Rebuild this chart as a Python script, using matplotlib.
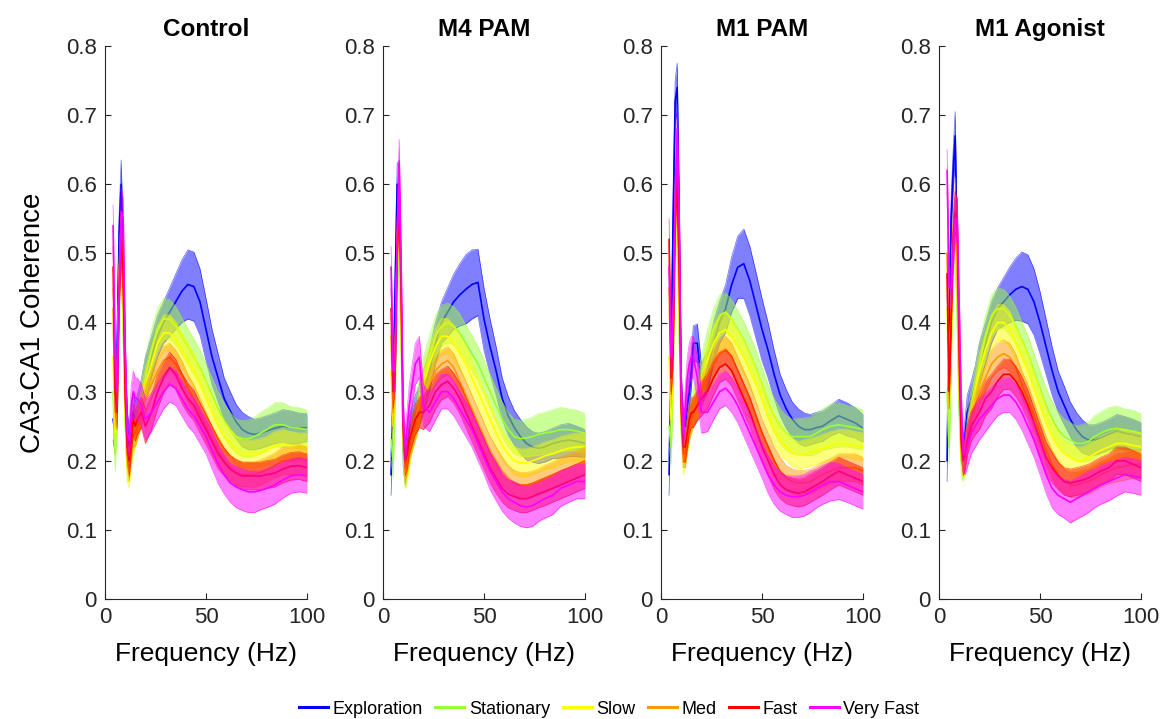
"""
CA3-CA1 coherence spectra by running speed, four drug conditions
"""

import numpy as np
import matplotlib
matplotlib.use('Agg')
import matplotlib.pyplot as plt
from matplotlib.lines import Line2D

plt.rcParams['font.family'] = ['Liberation Sans', 'DejaVu Sans']

# ── data ─────────────────────────────────────────────────────────────────────
FREQ = [4, 5, 6, 7, 8, 9, 10, 11, 12, 13, 14, 15, 16, 18, 20, 23, 26, 29, 32, 35,
        38, 41, 44, 47, 50, 53, 56, 59, 62, 65, 68, 71, 74, 77, 80, 84, 88, 92, 96, 100]

PANELS = ['Control', 'M4 PAM', 'M1 PAM', 'M1 Agonist']
STATES = ['Exploration', 'Stationary', 'Slow', 'Med', 'Fast', 'Very Fast']
COLORS = ['#0000FF', '#99FF33', '#FFFF00', '#FF9900', '#FF0000', '#FF00FF']

# half width of the shaded band (same for every panel)
HW_EXPLORATION = [0.03, 0.03, 0.03, 0.03, 0.035, 0.03, 0.03, 0.025, 0.025, 0.025, 0.025, 0.025, 0.025, 0.028, 0.03, 0.03, 0.03, 0.03, 0.035, 0.04,
                  0.045, 0.05, 0.05, 0.048, 0.045, 0.04, 0.035, 0.03, 0.028, 0.025, 0.025, 0.024, 0.022, 0.022, 0.022, 0.022, 0.024, 0.024, 0.022, 0.02]
HW_STATIONARY = [0.03, 0.025, 0.03, 0.03, 0.03, 0.03, 0.025, 0.02, 0.02, 0.022, 0.022, 0.025, 0.025, 0.028, 0.03, 0.03, 0.03, 0.03, 0.028, 0.028,
                 0.027, 0.026, 0.026, 0.025, 0.025, 0.025, 0.025, 0.025, 0.025, 0.025, 0.026, 0.027, 0.028, 0.03, 0.03, 0.032, 0.032, 0.03, 0.03, 0.028]
HW_SLOW = [0.03, 0.025, 0.025, 0.03, 0.03, 0.03, 0.025, 0.02, 0.02, 0.02, 0.022, 0.022, 0.022, 0.024, 0.025, 0.025, 0.026, 0.026, 0.026, 0.026,
           0.025, 0.025, 0.025, 0.024, 0.024, 0.023, 0.022, 0.022, 0.02, 0.02, 0.02, 0.02, 0.02, 0.02, 0.02, 0.02, 0.02, 0.02, 0.02, 0.02]
HW_MED = [0.03, 0.025, 0.025, 0.03, 0.03, 0.03, 0.025, 0.02, 0.02, 0.02, 0.02, 0.02, 0.02, 0.02, 0.02, 0.02, 0.02, 0.02, 0.02, 0.02,
          0.02, 0.02, 0.02, 0.02, 0.02, 0.02, 0.02, 0.02, 0.018, 0.018, 0.018, 0.018, 0.018, 0.018, 0.018, 0.018, 0.02, 0.02, 0.02, 0.02]
HW_FAST = [0.03, 0.025, 0.025, 0.03, 0.03, 0.03, 0.025, 0.022, 0.022, 0.022, 0.022, 0.022, 0.022, 0.022, 0.025, 0.025, 0.025, 0.022, 0.022, 0.022,
           0.022, 0.022, 0.022, 0.022, 0.022, 0.022, 0.022, 0.02, 0.02, 0.02, 0.02, 0.02, 0.02, 0.02, 0.02, 0.02, 0.02, 0.02, 0.02, 0.02]
HW_VERY_FAST = [0.03, 0.03, 0.03, 0.03, 0.035, 0.03, 0.03, 0.025, 0.025, 0.03, 0.03, 0.03, 0.03, 0.03, 0.03, 0.028, 0.026, 0.025, 0.025, 0.025,
                0.025, 0.025, 0.025, 0.025, 0.025, 0.027, 0.028, 0.028, 0.028, 0.03, 0.03, 0.03, 0.03, 0.028, 0.028, 0.028, 0.026, 0.025, 0.025, 0.025]

# Control
CTRL_EXPLORATION = [0.26, 0.24, 0.36, 0.53, 0.60, 0.50, 0.34, 0.25, 0.22, 0.24, 0.27, 0.26, 0.27, 0.29, 0.32, 0.35, 0.38, 0.40, 0.415, 0.43,
                    0.445, 0.455, 0.452, 0.43, 0.39, 0.35, 0.32, 0.29, 0.272, 0.256, 0.245, 0.24, 0.238, 0.24, 0.243, 0.247, 0.25, 0.248, 0.247, 0.248]
CTRL_STATIONARY = [0.30, 0.21, 0.27, 0.44, 0.50, 0.40, 0.26, 0.19, 0.19, 0.22, 0.24, 0.25, 0.26, 0.29, 0.32, 0.36, 0.39, 0.405, 0.405, 0.395,
                   0.38, 0.365, 0.35, 0.335, 0.315, 0.295, 0.275, 0.258, 0.245, 0.235, 0.232, 0.232, 0.235, 0.24, 0.245, 0.252, 0.252, 0.248, 0.247, 0.245]
CTRL_SLOW = [0.35, 0.24, 0.30, 0.46, 0.52, 0.42, 0.27, 0.19, 0.18, 0.21, 0.23, 0.24, 0.25, 0.28, 0.31, 0.34, 0.37, 0.385, 0.385, 0.375,
             0.36, 0.345, 0.33, 0.31, 0.29, 0.27, 0.25, 0.235, 0.225, 0.215, 0.21, 0.21, 0.21, 0.212, 0.215, 0.222, 0.225, 0.222, 0.22, 0.22]
CTRL_MED = [0.42, 0.27, 0.32, 0.47, 0.53, 0.45, 0.29, 0.21, 0.19, 0.22, 0.24, 0.24, 0.25, 0.27, 0.29, 0.31, 0.33, 0.345, 0.35, 0.34,
            0.325, 0.305, 0.29, 0.27, 0.25, 0.23, 0.215, 0.20, 0.19, 0.182, 0.18, 0.18, 0.18, 0.183, 0.187, 0.193, 0.20, 0.20, 0.203, 0.20]
CTRL_FAST = [0.48, 0.30, 0.27, 0.44, 0.52, 0.47, 0.30, 0.22, 0.20, 0.23, 0.26, 0.25, 0.26, 0.27, 0.25, 0.27, 0.30, 0.32, 0.335, 0.325,
             0.305, 0.29, 0.28, 0.262, 0.245, 0.228, 0.21, 0.198, 0.188, 0.182, 0.178, 0.178, 0.178, 0.178, 0.18, 0.182, 0.188, 0.192, 0.193, 0.19]
CTRL_VERY_FAST = [0.54, 0.35, 0.30, 0.45, 0.56, 0.55, 0.36, 0.24, 0.23, 0.28, 0.30, 0.29, 0.29, 0.28, 0.26, 0.27, 0.285, 0.30, 0.31, 0.305,
                  0.29, 0.275, 0.265, 0.25, 0.235, 0.215, 0.195, 0.18, 0.168, 0.162, 0.158, 0.155, 0.155, 0.157, 0.16, 0.165, 0.172, 0.178, 0.18, 0.178]

# M4 PAM
M4_EXPLORATION = [0.18, 0.30, 0.45, 0.60, 0.60, 0.42, 0.22, 0.19, 0.22, 0.24, 0.25, 0.26, 0.27, 0.28, 0.30, 0.33, 0.37, 0.40, 0.415, 0.43,
                  0.44, 0.448, 0.455, 0.458, 0.405, 0.365, 0.33, 0.29, 0.265, 0.248, 0.235, 0.225, 0.22, 0.218, 0.22, 0.225, 0.228, 0.23, 0.228, 0.225]
M4_STATIONARY = [0.23, 0.20, 0.30, 0.45, 0.50, 0.38, 0.22, 0.18, 0.19, 0.21, 0.23, 0.25, 0.26, 0.29, 0.32, 0.35, 0.38, 0.395, 0.40, 0.395,
                 0.385, 0.37, 0.355, 0.34, 0.32, 0.30, 0.28, 0.26, 0.245, 0.235, 0.232, 0.233, 0.235, 0.238, 0.24, 0.242, 0.245, 0.245, 0.243, 0.24]
M4_SLOW = [0.33, 0.25, 0.33, 0.50, 0.55, 0.40, 0.23, 0.18, 0.19, 0.21, 0.23, 0.24, 0.25, 0.28, 0.31, 0.34, 0.365, 0.38, 0.38, 0.37,
           0.355, 0.34, 0.32, 0.30, 0.28, 0.26, 0.24, 0.222, 0.21, 0.20, 0.197, 0.197, 0.20, 0.203, 0.207, 0.21, 0.215, 0.218, 0.22, 0.22]
M4_MED = [0.38, 0.27, 0.35, 0.52, 0.58, 0.42, 0.24, 0.19, 0.20, 0.22, 0.23, 0.24, 0.25, 0.27, 0.29, 0.31, 0.33, 0.34, 0.345, 0.335,
          0.315, 0.295, 0.275, 0.255, 0.235, 0.215, 0.20, 0.185, 0.175, 0.168, 0.165, 0.165, 0.167, 0.17, 0.175, 0.18, 0.185, 0.19, 0.195, 0.20]
M4_FAST = [0.42, 0.30, 0.33, 0.50, 0.59, 0.44, 0.25, 0.20, 0.21, 0.23, 0.24, 0.25, 0.26, 0.27, 0.27, 0.28, 0.30, 0.31, 0.315, 0.305,
           0.29, 0.27, 0.25, 0.23, 0.21, 0.19, 0.175, 0.16, 0.152, 0.148, 0.145, 0.145, 0.148, 0.152, 0.155, 0.16, 0.165, 0.17, 0.175, 0.18]
M4_VERY_FAST = [0.48, 0.33, 0.33, 0.52, 0.63, 0.48, 0.26, 0.22, 0.25, 0.28, 0.30, 0.32, 0.34, 0.35, 0.28, 0.27, 0.285, 0.30, 0.30, 0.29,
                0.275, 0.26, 0.245, 0.225, 0.205, 0.185, 0.17, 0.155, 0.145, 0.14, 0.135, 0.133, 0.135, 0.14, 0.145, 0.15, 0.16, 0.165, 0.17, 0.17]

# M1 PAM
M1P_EXPLORATION = [0.18, 0.35, 0.55, 0.72, 0.74, 0.55, 0.30, 0.25, 0.25, 0.28, 0.30, 0.33, 0.37, 0.37, 0.31, 0.33, 0.37, 0.40, 0.42, 0.455,
                   0.48, 0.485, 0.46, 0.425, 0.39, 0.36, 0.325, 0.295, 0.275, 0.26, 0.25, 0.245, 0.245, 0.248, 0.25, 0.258, 0.265, 0.26, 0.255, 0.247]
M1P_STATIONARY = [0.25, 0.22, 0.33, 0.50, 0.55, 0.40, 0.25, 0.21, 0.22, 0.24, 0.26, 0.27, 0.28, 0.30, 0.32, 0.36, 0.39, 0.41, 0.415, 0.405,
                  0.39, 0.375, 0.355, 0.335, 0.31, 0.285, 0.265, 0.25, 0.24, 0.235, 0.235, 0.235, 0.235, 0.24, 0.245, 0.25, 0.252, 0.25, 0.248, 0.245]
M1P_SLOW = [0.35, 0.26, 0.36, 0.52, 0.57, 0.42, 0.26, 0.20, 0.21, 0.23, 0.25, 0.26, 0.27, 0.29, 0.31, 0.345, 0.37, 0.385, 0.39, 0.38,
            0.365, 0.35, 0.33, 0.31, 0.29, 0.265, 0.245, 0.23, 0.22, 0.212, 0.208, 0.21, 0.212, 0.215, 0.218, 0.222, 0.225, 0.225, 0.222, 0.22]
M1P_MED = [0.45, 0.30, 0.38, 0.55, 0.60, 0.45, 0.27, 0.21, 0.21, 0.23, 0.25, 0.26, 0.27, 0.28, 0.30, 0.32, 0.34, 0.355, 0.36, 0.35,
           0.33, 0.31, 0.29, 0.265, 0.24, 0.22, 0.20, 0.185, 0.175, 0.17, 0.168, 0.168, 0.17, 0.175, 0.18, 0.185, 0.19, 0.19, 0.19, 0.185]
M1P_FAST = [0.52, 0.32, 0.36, 0.55, 0.62, 0.48, 0.28, 0.22, 0.22, 0.24, 0.26, 0.27, 0.27, 0.28, 0.29, 0.30, 0.32, 0.335, 0.34, 0.33,
            0.31, 0.29, 0.27, 0.245, 0.22, 0.20, 0.18, 0.165, 0.158, 0.155, 0.153, 0.155, 0.16, 0.165, 0.17, 0.178, 0.185, 0.18, 0.175, 0.17]
M1P_VERY_FAST = [0.48, 0.35, 0.40, 0.58, 0.68, 0.55, 0.30, 0.24, 0.28, 0.32, 0.34, 0.35, 0.35, 0.32, 0.27, 0.27, 0.285, 0.30, 0.305, 0.295,
                 0.28, 0.26, 0.24, 0.22, 0.20, 0.18, 0.165, 0.155, 0.15, 0.148, 0.148, 0.15, 0.155, 0.16, 0.165, 0.17, 0.17, 0.165, 0.16, 0.155]

# M1 Agonist
M1A_EXPLORATION = [0.20, 0.40, 0.55, 0.62, 0.67, 0.50, 0.30, 0.23, 0.21, 0.24, 0.27, 0.28, 0.29, 0.31, 0.34, 0.37, 0.40, 0.42, 0.43, 0.44,
                   0.448, 0.452, 0.448, 0.43, 0.40, 0.365, 0.33, 0.30, 0.28, 0.26, 0.245, 0.235, 0.23, 0.23, 0.233, 0.238, 0.243, 0.24, 0.238, 0.235]
M1A_STATIONARY = [0.30, 0.22, 0.35, 0.48, 0.52, 0.42, 0.28, 0.20, 0.19, 0.21, 0.24, 0.26, 0.28, 0.31, 0.34, 0.38, 0.41, 0.42, 0.42, 0.41,
                  0.395, 0.375, 0.355, 0.33, 0.305, 0.28, 0.26, 0.245, 0.235, 0.23, 0.225, 0.225, 0.228, 0.235, 0.24, 0.245, 0.247, 0.245, 0.243, 0.24]
M1A_SLOW = [0.42, 0.28, 0.38, 0.50, 0.55, 0.45, 0.30, 0.21, 0.19, 0.21, 0.23, 0.25, 0.27, 0.30, 0.33, 0.36, 0.385, 0.40, 0.40, 0.39,
            0.37, 0.35, 0.33, 0.305, 0.28, 0.255, 0.235, 0.22, 0.21, 0.205, 0.20, 0.20, 0.205, 0.21, 0.215, 0.22, 0.225, 0.225, 0.222, 0.22]
M1A_MED = [0.50, 0.32, 0.42, 0.53, 0.58, 0.48, 0.32, 0.22, 0.20, 0.21, 0.23, 0.25, 0.26, 0.28, 0.30, 0.32, 0.34, 0.35, 0.355, 0.35,
           0.335, 0.31, 0.29, 0.265, 0.24, 0.215, 0.195, 0.18, 0.17, 0.165, 0.165, 0.168, 0.17, 0.175, 0.18, 0.185, 0.19, 0.192, 0.195, 0.195]
M1A_FAST = [0.47, 0.30, 0.40, 0.52, 0.56, 0.55, 0.36, 0.23, 0.20, 0.21, 0.23, 0.24, 0.25, 0.26, 0.27, 0.29, 0.30, 0.315, 0.325, 0.325,
            0.315, 0.30, 0.28, 0.255, 0.23, 0.205, 0.19, 0.178, 0.17, 0.168, 0.17, 0.172, 0.175, 0.18, 0.185, 0.19, 0.20, 0.20, 0.195, 0.19]
M1A_VERY_FAST = [0.62, 0.45, 0.45, 0.50, 0.55, 0.55, 0.42, 0.28, 0.21, 0.21, 0.22, 0.23, 0.24, 0.25, 0.26, 0.27, 0.28, 0.29, 0.295, 0.295,
                 0.285, 0.27, 0.25, 0.23, 0.205, 0.18, 0.16, 0.15, 0.145, 0.14, 0.145, 0.15, 0.155, 0.16, 0.165, 0.17, 0.175, 0.18, 0.178, 0.175]

PANEL_DATA = [
    [CTRL_EXPLORATION, CTRL_STATIONARY, CTRL_SLOW, CTRL_MED, CTRL_FAST, CTRL_VERY_FAST],
    [M4_EXPLORATION, M4_STATIONARY, M4_SLOW, M4_MED, M4_FAST, M4_VERY_FAST],
    [M1P_EXPLORATION, M1P_STATIONARY, M1P_SLOW, M1P_MED, M1P_FAST, M1P_VERY_FAST],
    [M1A_EXPLORATION, M1A_STATIONARY, M1A_SLOW, M1A_MED, M1A_FAST, M1A_VERY_FAST],
]
HALF_WIDTHS = [HW_EXPLORATION, HW_STATIONARY, HW_SLOW, HW_MED, HW_FAST, HW_VERY_FAST]

# ── figure ───────────────────────────────────────────────────────────────────
W, H = 1165, 719
fig = plt.figure(figsize=(W / 100, H / 100), dpi=100)
fig.patch.set_facecolor('white')

freq = np.array(FREQ)
axis_color = '#262626'
lefts = [105, 383, 661, 939]

for p, name in enumerate(PANELS):
    ax = fig.add_axes([lefts[p] / W, (H - 599) / H, 202 / W, 553 / H])

    # band + mean, each state drawn over the previous one
    for i, (mean, hw, col) in enumerate(zip(PANEL_DATA[p], HALF_WIDTHS, COLORS)):
        m = np.array(mean)
        e = np.array(hw)
        ax.fill_between(freq, m - e, m + e, color=col, alpha=0.5, linewidth=0,
                        zorder=2 * i + 1)
        # thin band edges like shadedErrorBar
        ax.plot(freq, m - e, color=col, lw=0.5, alpha=0.6, zorder=2 * i + 1)
        ax.plot(freq, m + e, color=col, lw=0.5, alpha=0.6, zorder=2 * i + 1)
        ax.plot(freq, m, color=col, lw=1.2, zorder=2 * i + 2)

    ax.set_xlim(0, 100)
    ax.set_ylim(0, 0.8)
    ax.set_xticks([0, 50, 100])
    ax.set_yticks(np.arange(0, 0.81, 0.1))
    ax.set_yticklabels(['0', '0.1', '0.2', '0.3', '0.4', '0.5', '0.6', '0.7', '0.8'])
    ax.tick_params(direction='in', length=4, width=0.8, colors=axis_color,
                   labelsize=16, pad=6)
    for s in ['top', 'right']:
        ax.spines[s].set_visible(False)
    for s in ['left', 'bottom']:
        ax.spines[s].set_color(axis_color)
        ax.spines[s].set_linewidth(0.8)

    ax.set_title(name, fontsize=17.5, fontweight='bold', pad=7)
    ax.set_xlabel('Frequency (Hz)', fontsize=19, labelpad=10)
    if p == 0:
        ax.set_ylabel('CA3-CA1 Coherence', fontsize=20, labelpad=14)

# 图例
handles = [Line2D([0], [0], color=c, lw=2.2) for c in COLORS]
fig.legend(handles, STATES, loc='center', bbox_to_anchor=(0.523, 1 - 709 / H),
           ncol=6, frameon=False, fontsize=13, handlelength=1.6,
           handletextpad=0.25, columnspacing=0.7)

fig.savefig('out.png', dpi=100, facecolor='white')
